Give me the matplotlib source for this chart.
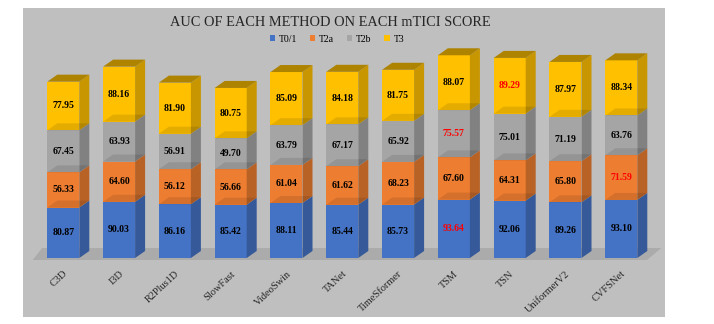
import numpy as np
import matplotlib
matplotlib.use("Agg")
from matplotlib import pyplot as plt
from matplotlib.patches import Polygon, Patch

methods = ["C3D", "I3D", "R2Plus1D", "SlowFast", "VideoSwin", "TANet",
           "TimeSformer", "TSM", "TSN", "UniformerV2", "CVFSNet"]
series_names = ["T0/1", "T2a", "T2b", "T3"]
t01 = [80.87, 90.03, 86.16, 85.42, 88.11, 85.44, 85.73, 93.64, 92.06, 89.26, 93.10]
t2a = [56.33, 64.60, 56.12, 56.66, 61.04, 61.62, 68.23, 67.60, 64.31, 65.80, 71.59]
t2b = [67.45, 63.93, 56.91, 49.70, 63.79, 67.17, 65.92, 75.57, 75.01, 71.19, 63.76]
t3 = [77.95, 88.16, 81.90, 80.75, 85.09, 84.18, 81.75, 88.07, 89.29, 87.97, 88.34]

colors = ["#4472c4", "#ed7d31", "#a5a5a5", "#ffc000"]
serif = "Liberation Serif"

W, H = 714, 324
fig = plt.figure(figsize=(W / 100, H / 100), dpi=100)
fig.patch.set_facecolor("white")

# chart area (pixels from top-left)
left, right, top, bottom = 22.7, 665, 7.7, 317
ax = fig.add_axes([left / W, 1 - bottom / H, (right - left) / W, (bottom - top) / H])
ax.set_facecolor("#bfbfbf")

# scale: pixels per data unit
px_x = 55.8
px_y = 0.624
x0_px, base_px = 63.3, 258
ax.set_xlim((left - x0_px) / px_x, (right - x0_px) / px_x)
ax.set_ylim(-(bottom - base_px) / px_y, (base_px - top) / px_y)

width = 32 / px_x
dx = 10 / px_x
dy = 7 / px_y


def shade(c, f):
    r, g, b = matplotlib.colors.to_rgb(c)
    return (r * f, g * f, b * f)


x = np.arange(len(methods))

# floor
fdx, fdy = 12 / px_x, 12 / px_y
fy = -2 / px_y
fl, fr = x[0] - 0.55, x[-1] + 0.46
ax.add_patch(Polygon([(fl, fy), (fr, fy), (fr + fdx * 1.2, fy + fdy), (fl + fdx * 0.8, fy + fdy)],
                     closed=True, facecolor="#ababab", edgecolor="none", zorder=1))

data = np.array([t01, t2a, t2b, t3])
bottoms = np.zeros(len(methods))
for k, (vals, c) in enumerate(zip(data, colors)):
    ax.bar(x, vals, width, bottom=bottoms, color=c, zorder=3)
    best = np.argmax(vals)
    for i in range(len(methods)):
        b, t = bottoms[i], bottoms[i] + vals[i]
        xr = x[i] + width / 2
        xl = x[i] - width / 2
        ax.add_patch(Polygon([(xr, b), (xr + dx, b + dy), (xr + dx, t + dy), (xr, t)],
                             closed=True, facecolor=shade(c, 0.78), edgecolor="none", zorder=3))
        if k == len(data) - 1:
            ax.add_patch(Polygon([(xl, t), (xr, t), (xr + dx, t + dy), (xl + dx, t + dy)],
                                 closed=True, facecolor=shade(c, 0.68), edgecolor="none", zorder=3))
        if k > 0:
            # top of the lower segment seen through
            ax.add_patch(Polygon([(xl, b), (xr, b), (xr + dx, b + dy), (xl + dx, b + dy)],
                                 closed=True, facecolor="black", alpha=0.1,
                                 edgecolor="none", zorder=4))
        ax.text(x[i], b + vals[i] / 2, f"{vals[i]:.2f}", ha="center", va="center",
                fontsize=7, fontweight="bold", family=serif,
                color="#ff0000" if i == best else "black", zorder=5)
    bottoms += vals

for sp in ["top", "right", "left"]:
    ax.spines[sp].set_visible(False)
ax.spines["bottom"].set_position(("data", 0))
ax.spines["bottom"].set_visible(False)
ax.set_yticks([])
ax.set_xticks(x)
ax.set_xticklabels(methods, rotation=43, ha="right", va="top", rotation_mode="anchor",
                   fontsize=7.5, family=serif, color="#262626")
ax.tick_params(axis="x", length=0, pad=8)

fig.text(330.5 / W, 1 - 23 / H, "AUC OF EACH METHOD ON EACH mTICI SCORE",
         ha="center", va="center", fontsize=10.4, family=serif, color="#262626")

handles = [Patch(facecolor=c, edgecolor="none", label=n) for c, n in zip(colors, series_names)]
fig.legend(handles=handles, loc="center", bbox_to_anchor=(337 / W, 1 - 39.3 / H), ncol=4,
           frameon=False, prop={"family": serif, "size": 7}, handlelength=0.55,
           handleheight=0.55, handletextpad=0.4, columnspacing=1.3)

fig.savefig("out.png", dpi=100)
